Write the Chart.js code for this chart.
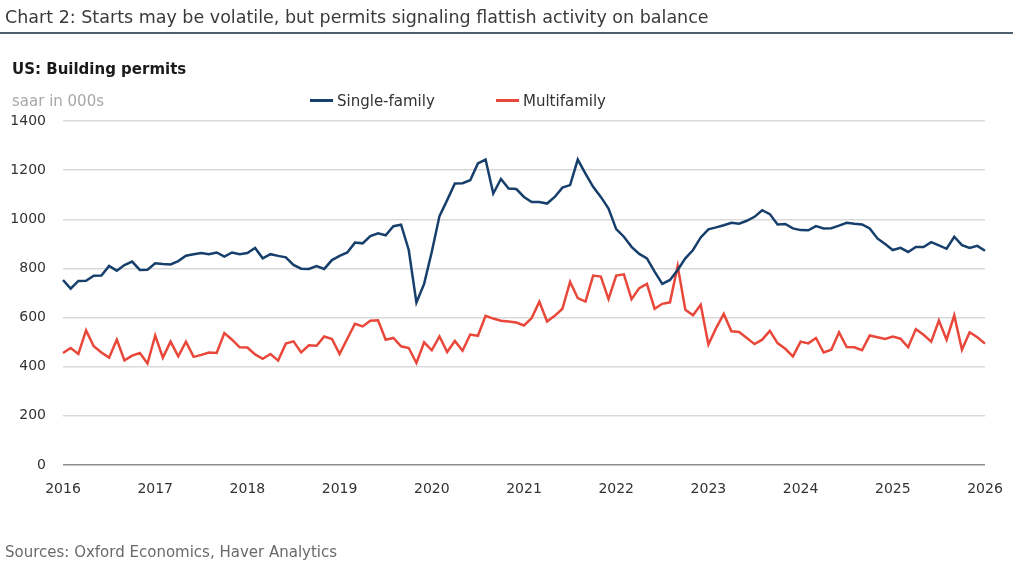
<!DOCTYPE html>
<html>
<head>
<meta charset="utf-8">
<script src="https://cdn.jsdelivr.net/npm/chart.js@4.4.1/dist/chart.umd.min.js"></script>
<style>
  body { margin: 0; width: 1024px; height: 561px; background: #fff; overflow: hidden;
         font-family: 'DejaVu Sans', sans-serif; position: relative; }
  #title { position: absolute; left: 5px; top: 7px; font-size: 17.5px; color: #3a3a3a; white-space: nowrap; }
  #rule { position: absolute; left: 0; top: 32px; width: 1013px; height: 2px; background: #4f5f70; }
  #subtitle { position: absolute; left: 12px; top: 60px; font-size: 15px; font-weight: bold; color: #1a1a1a; }
  #unit { position: absolute; left: 12px; top: 92px; font-size: 15px; color: #a8a8a8; }
  .item { position: absolute; top: 92px; font-size: 15px; color: #333; white-space: nowrap; }
  .mark { display: inline-block; width: 23px; height: 3px; vertical-align: middle; margin-right: 4px; position: relative; top: -1px; }
  #source { position: absolute; left: 5px; top: 543px; font-size: 15px; color: #6a6a6a; }
  #chart { position: absolute; left: 0; top: 0; }
</style>
</head>
<body>
<canvas id="chart" width="1024" height="561"></canvas>
<div id="title">Chart 2: Starts may be volatile, but permits signaling flattish activity on balance</div>
<div id="rule"></div>
<div id="subtitle">US: Building permits</div>
<div id="unit">saar in 000s</div>
<div class="item" style="left:310px"><span class="mark" style="background:#173f6b"></span>Single-family</div>
<div class="item" style="left:496px"><span class="mark" style="background:#e8473a"></span>Multifamily</div>
<div id="source">Sources: Oxford Economics, Haver Analytics</div>
<script>
'use strict';
// 年の目盛りラベル
const years = ['2016', '2017', '2018', '2019', '2020', '2021', '2022', '2023', '2024', '2025', '2026'];

// 月次データ 2016年1月〜2026年1月 (saar, 千戸)
const singleFamily = [
  753, 718, 749, 750, 770, 771, 810, 791, 814, 828, 794, 795,
  821, 818, 816, 830, 852, 858, 863, 858, 865, 848, 865, 858,
  863, 883, 841, 858, 851, 845, 814, 799, 798, 810, 798, 834,
  851, 865, 905, 902, 932, 943, 935, 972, 978, 875, 661, 737,
  868, 1013, 1078, 1146, 1147, 1159, 1227, 1243, 1105, 1164, 1125, 1123,
  1091, 1070, 1070, 1064, 1091, 1129, 1139, 1243, 1186, 1132, 1091, 1044,
  960, 929, 888, 859, 841, 787, 737, 753, 794, 841, 875, 926,
  959, 967, 976, 986, 982, 994, 1010, 1037, 1021, 979, 981, 963,
  956, 955, 972, 963, 964, 974, 986, 982, 979, 963, 922, 899,
  875, 884, 867, 887, 887, 907, 894, 880, 929, 895, 883, 892,
  872,
];
const multifamily = [
  456, 476, 452, 548, 483, 458, 437, 510, 426, 445, 456, 413,
  527, 437, 502, 442, 502, 440, 448, 458, 456, 537, 510, 479,
  478, 450, 432, 452, 425, 494, 503, 458, 487, 485, 523, 513,
  452, 514, 575, 564, 587, 589, 510, 517, 483, 476, 415, 499,
  467, 523, 460, 505, 465, 531, 526, 607, 596, 587, 584, 580,
  568, 598, 665, 584, 607, 636, 746, 679, 665, 771, 767, 675,
  771, 776, 675, 720, 737, 636, 656, 662, 810, 632, 609, 652,
  490, 557, 615, 544, 541, 517, 492, 510, 546, 496, 473, 442,
  502, 495, 517, 458, 469, 540, 480, 479, 467, 527, 520, 513,
  523, 514, 479, 553, 530, 502, 588, 510, 609, 469, 540, 520,
  494,
];

// 月のラベル (年の先頭だけ目盛りに表示)
const labels = [];
for (let i = 0; i < singleFamily.length; i++) {
  const y = 2016 + Math.floor(i / 12);
  labels.push(`${y}-${String((i % 12) + 1).padStart(2, '0')}`);
}

drawGraph();

function drawGraph() {
  const ctx = document.getElementById('chart');
  const tickFont = { family: 'DejaVu Sans', size: 14 };
  new Chart(ctx, {
    type: 'line',
    data: {
      labels: labels,
      datasets: [
        {
          label: 'Single-family',
          data: singleFamily,
          borderColor: '#173f6b',
          borderWidth: 2.5,
          pointRadius: 0,
          tension: 0,
        },
        {
          label: 'Multifamily',
          data: multifamily,
          borderColor: '#e8473a',
          borderWidth: 2.5,
          pointRadius: 0,
          tension: 0,
        },
      ],
    },
    options: {
      responsive: false,
      animation: false,
      layout: { padding: { top: 121, right: 39, left: 0, bottom: 0 } },
      plugins: {
        legend: { display: false },
        tooltip: { enabled: false },
      },
      scales: {
        x: {
          offset: false,
          grid: { display: false, drawTicks: false },
          border: { display: false },
          ticks: {
            autoSkip: false,
            maxRotation: 0,
            padding: 16,
            color: '#333',
            font: tickFont,
            callback: (v, i) => (i % 12 === 0 ? years[i / 12] : ''),
          },
          afterFit: (scale) => { scale.height = 96; },
        },
        y: {
          min: 0,
          max: 1400,
          grid: {
            color: (c) => (c.tick.value === 0 ? '#8c8c8c' : '#d9d9d9'),
            lineWidth: 1.5,
            drawTicks: false,
          },
          border: { display: false },
          ticks: {
            stepSize: 200,
            padding: 17,
            color: '#333',
            font: tickFont,
            callback: (v) => String(v),
          },
          afterFit: (scale) => { scale.width = 63; },
        },
      },
    },
  });
}
</script>
</body>
</html>
